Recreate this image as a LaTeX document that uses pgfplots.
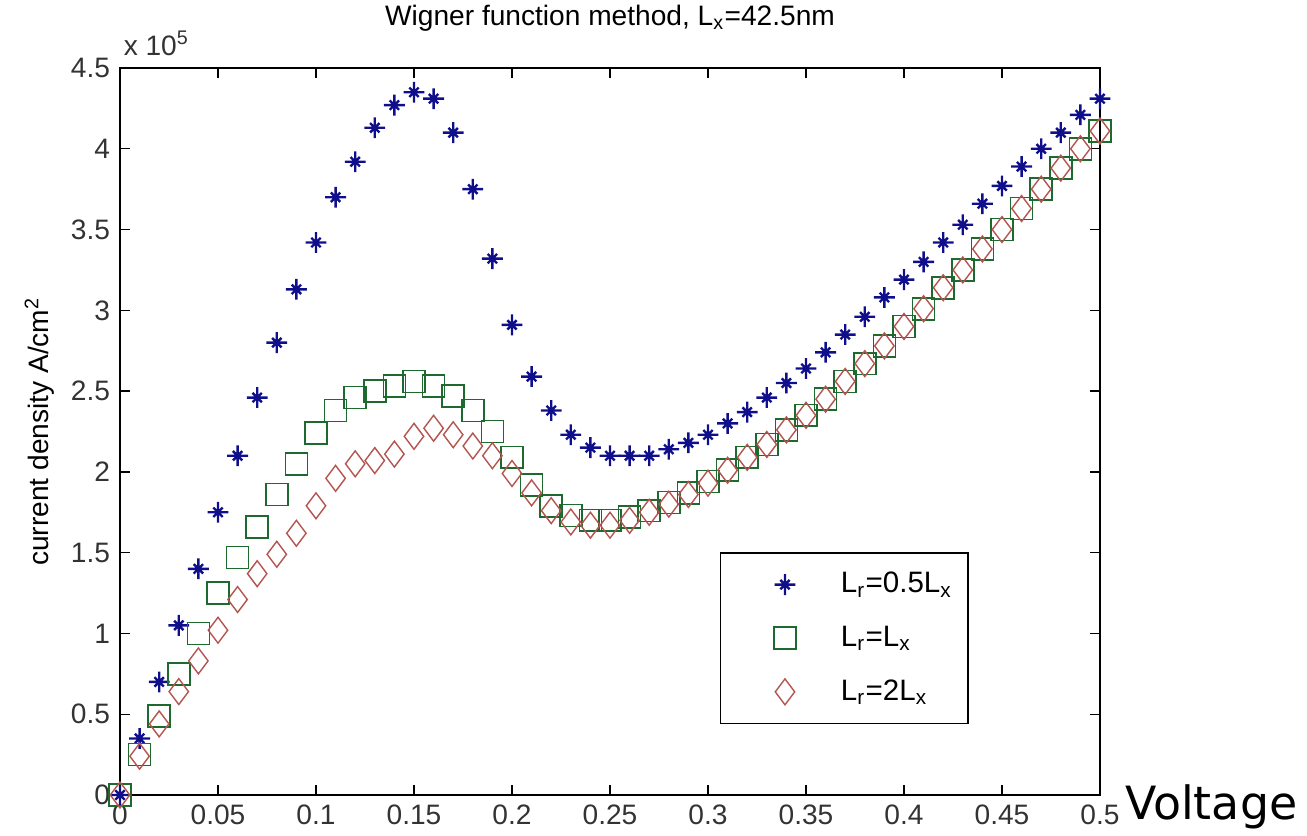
\documentclass[border=0pt]{standalone}
\usepackage{fontspec}
\setmainfont{Liberation Sans}
\newfontfamily\voltfont{DejaVu Sans}
\usepackage{pgfplots}
\pgfplotsset{compat=1.18}
\usepackage{pgfplotstable}

\definecolor{starblue}{RGB}{15,15,140}
\definecolor{sqgreen}{RGB}{30,105,45}
\definecolor{diared}{RGB}{180,85,80}

% matlab-like '*' marker: long plus, short cross
\pgfdeclareplotmark{mstar}{%
  \pgfpathmoveto{\pgfqpoint{0pt}{\pgfplotmarksize}}%
  \pgfpathlineto{\pgfqpoint{0pt}{-\pgfplotmarksize}}%
  \pgfpathmoveto{\pgfqpoint{\pgfplotmarksize}{0pt}}%
  \pgfpathlineto{\pgfqpoint{-\pgfplotmarksize}{0pt}}%
  \pgfpathmoveto{\pgfqpoint{.45\pgfplotmarksize}{.45\pgfplotmarksize}}%
  \pgfpathlineto{\pgfqpoint{-.45\pgfplotmarksize}{-.45\pgfplotmarksize}}%
  \pgfpathmoveto{\pgfqpoint{.45\pgfplotmarksize}{-.45\pgfplotmarksize}}%
  \pgfpathlineto{\pgfqpoint{-.45\pgfplotmarksize}{.45\pgfplotmarksize}}%
  \pgfusepathqstroke}

% current density in units of 1e5 A/cm^2
\pgfplotstableread{
V     half  same  double
0     0     0     0
0.01  0.35  0.25  0.24
0.02  0.70  0.49  0.44
0.03  1.05  0.75  0.64
0.04  1.40  1.00  0.83
0.05  1.75  1.25  1.02
0.06  2.10  1.47  1.21
0.07  2.46  1.66  1.37
0.08  2.80  1.86  1.49
0.09  3.13  2.05  1.62
0.10  3.42  2.24  1.79
0.11  3.70  2.38  1.96
0.12  3.92  2.46  2.05
0.13  4.13  2.50  2.07
0.14  4.27  2.53  2.11
0.15  4.35  2.56  2.22
0.16  4.31  2.53  2.27
0.17  4.10  2.47  2.23
0.18  3.75  2.38  2.16
0.19  3.32  2.25  2.10
0.20  2.91  2.09  1.99
0.21  2.59  1.92  1.87
0.22  2.38  1.79  1.76
0.23  2.23  1.73  1.69
0.24  2.15  1.70  1.67
0.25  2.10  1.70  1.67
0.26  2.10  1.72  1.70
0.27  2.10  1.76  1.75
0.28  2.14  1.81  1.80
0.29  2.18  1.87  1.86
0.30  2.23  1.94  1.93
0.31  2.30  2.01  2.01
0.32  2.37  2.09  2.09
0.33  2.46  2.17  2.17
0.34  2.55  2.26  2.26
0.35  2.64  2.35  2.35
0.36  2.74  2.45  2.45
0.37  2.85  2.56  2.56
0.38  2.96  2.67  2.67
0.39  3.08  2.78  2.78
0.40  3.19  2.90  2.90
0.41  3.30  3.01  3.01
0.42  3.42  3.14  3.14
0.43  3.53  3.25  3.25
0.44  3.66  3.38  3.38
0.45  3.77  3.50  3.50
0.46  3.89  3.63  3.63
0.47  4.00  3.75  3.75
0.48  4.10  3.88  3.88
0.49  4.21  4.00  4.00
0.50  4.31  4.11  4.11
}\ivdata

\begin{document}
\begin{tikzpicture}
\begin{axis}[
  scale only axis,
  width=12.25cm, height=9.0875cm,
  xmin=0, xmax=0.5, ymin=0, ymax=4.5,
  xtick={0,0.05,0.1,0.15,0.2,0.25,0.3,0.35,0.4,0.45,0.5},
  ytick={0,0.5,1,1.5,2,2.5,3,3.5,4,4.5},
  scaled x ticks=false, scaled y ticks=false,
  xticklabel style={/pgf/number format/fixed, /pgf/number format/precision=2},
  /pgf/number format/assume math mode=true,
  tick label style={font=\fontsize{10}{12}\selectfont, text=black!80},
  tick align=inside, xtick pos=both, ytick pos=both,
  major tick length=0.12cm,
  every tick/.style={black, line width=0.5pt},
  axis line style={black, line width=0.6pt},
  clip=false,
  title={Wigner function method, L\textsubscript{x}=42.5nm},
  title style={at={(rel axis cs:0.5,1)}, anchor=south, inner sep=0pt,
    yshift=0.24cm, font=\fontsize{10}{12}\selectfont},
  ylabel={current density A/cm\textsuperscript{2}},
  ylabel style={at={(rel axis cs:-0.082,0.5)}, anchor=center,
    font=\fontsize{10}{12}\selectfont},
  legend style={at={(rel axis cs:0.612,0.334)}, anchor=north west,
    draw=black, line width=0.6pt, inner xsep=0.2cm, inner ysep=0.06cm,
    row sep=0pt, font=\fontsize{10.5}{12}\selectfont,
    nodes={inner sep=0pt, minimum height=0.67cm, anchor=west},
    /tikz/every odd column/.append style={column sep=0.375cm}},
  legend cell align=left,
  legend image code/.code={\path (0cm,0cm) (0.9cm,0cm);
    \draw[#1] plot coordinates {(0.59cm,0cm)};},
]
\addplot[only marks, mark=mstar, mark size=3.7pt, draw=starblue, line width=0.85pt]
  table[x=V, y=half] {\ivdata};
\addlegendentry{L\textsubscript{r}=0.5L\textsubscript{x}}
\addplot[only marks, mark=square, mark size=3.9pt, draw=sqgreen, line width=0.6pt]
  table[x=V, y=same] {\ivdata};
\addlegendentry{L\textsubscript{r}=L\textsubscript{x}}
\addplot[only marks, mark=diamond, mark size=4.6pt, draw=diared, line width=0.5pt]
  table[x=V, y=double] {\ivdata};
\addlegendentry{L\textsubscript{r}=2L\textsubscript{x}}

\node[anchor=base west, inner sep=0pt, font=\fontsize{10}{12}\selectfont, text=black!80]
  at ([xshift=0.04cm, yshift=0.16cm]rel axis cs:0,1) {x 10\textsuperscript{5}};
\node[anchor=base west, inner sep=0pt, font=\voltfont\fontsize{16.3}{19}\selectfont]
  at ([xshift=0.31cm, yshift=-0.31cm]rel axis cs:1,0) {Voltage};
\end{axis}
\pgfresetboundingbox
\path[use as bounding box] (-1.5cm,-0.5125cm) rectangle (14.8375cm,9.9375cm);
\end{tikzpicture}
\end{document}
